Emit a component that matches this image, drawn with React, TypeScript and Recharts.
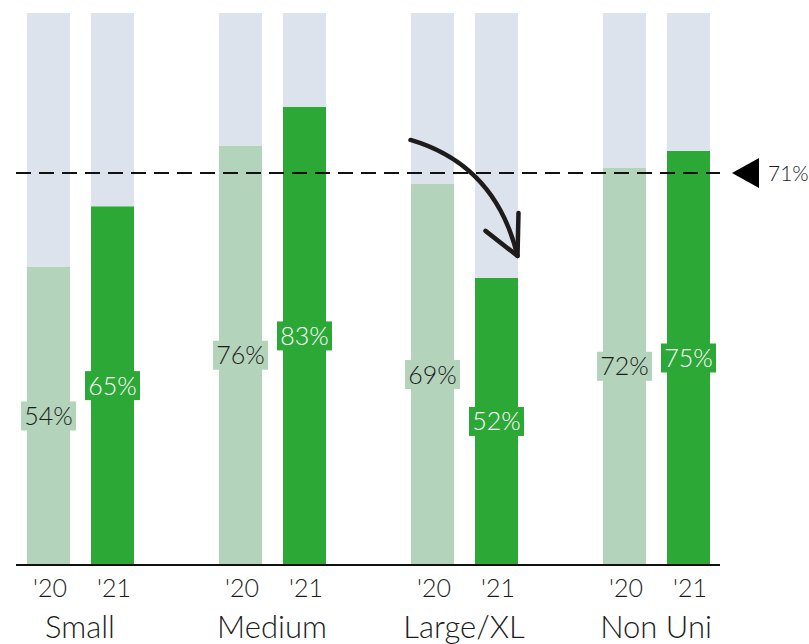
import React from "react";
import { BarChart, Bar, XAxis, YAxis, Cell, LabelList, ReferenceLine } from "recharts";

// Share by size group, 2020 vs 2021 (in %)
const groups = ["Small", "Medium", "Large/XL", "Non Uni"];
const yearLabels = ["'20", "'21"];
const share2020 = [54, 76, 69, 72];
const share2021 = [65, 83, 52, 75];

// Overall benchmark line
const benchmark = 71;
const benchmarkLabel = "71%";

// Curved arrow highlighting the drop in one group (start / end heights in %)
const dropGroup = "Large/XL";
const dropArrow = [77, 56];

const LIGHT = "#b3d3bb";
const DARK = "#2ca837";
const TRACK = "#dde3ed";
const INK = "#1c1c1c";
const FONT = "Lato, 'Open Sans', sans-serif";
const BAR = 43;

type Row = {
  key: string;
  year?: string;
  group?: string;
  value?: number;
  rest?: number;
  isNew?: boolean;
};

const rows: Row[] = [];
groups.forEach((g, i) => {
  [share2020[i], share2021[i]].forEach((v, j) => {
    rows.push({
      key: `${g}|${yearLabels[j]}`,
      year: yearLabels[j],
      group: g,
      value: v,
      rest: 100 - v,
      isNew: j === 1,
    });
  });
  // empty slot between groups
  if (i < groups.length - 1) rows.push({ key: `gap${i}` });
});

const CategoryTick = (props: any) => {
  const { x, y, payload, width } = props;
  const row = rows.find((r) => r.key === payload.value);
  if (!row || !row.year) return null;
  const halfBand = width ? width / rows.length / 2 : 32;
  return (
    <g>
      <text
        x={x + 2}
        y={y + 32}
        textAnchor="middle"
        fontFamily={FONT}
        fontWeight={300}
        fontSize={25}
        fill={INK}
      >
        {row.year}
      </text>
      {!row.isNew && (
        <text
          x={x + halfBand}
          y={y + 73}
          textAnchor="middle"
          fontFamily={FONT}
          fontWeight={300}
          fontSize={31}
          fill={INK}
        >
          {row.group}
        </text>
      )}
    </g>
  );
};

// Value tag centred on the coloured part of each bar
const ValueTag = (p: any) => {
  const row = rows.find((r) => r.key === p.value);
  if (!row || row.value == null) return null;
  const cx = p.x + p.width / 2;
  const cy = p.y + p.height / 2;
  return (
    <g>
      <rect x={cx - 27.5} y={cy - 14.5} width={55} height={29} fill={row.isNew ? DARK : LIGHT} />
      <text
        x={cx}
        y={cy + 9}
        textAnchor="middle"
        fontFamily={FONT}
        fontWeight={300}
        fontSize={25}
        fill={row.isNew ? "#ffffff" : INK}
      >
        {row.value}%
      </text>
    </g>
  );
};

const BenchmarkMarker = (props: any) => {
  const vb = props.viewBox || {};
  const xEnd = (vb.x || 0) + (vb.width || 0);
  const y = vb.y || 0;
  return (
    <g>
      <polygon
        points={`${xEnd + 12},${y} ${xEnd + 39},${y - 15} ${xEnd + 39},${y + 15}`}
        fill="#000"
      />
      <text
        x={xEnd + 48}
        y={y + 8}
        fontFamily={FONT}
        fontWeight={300}
        fontSize={21}
        fill={INK}
      >
        {benchmarkLabel}
      </text>
    </g>
  );
};

const DropArrow = (props: any) => {
  const { x1, y1, x2, y2 } = props;
  if ([x1, y1, x2, y2].some((v) => v == null || isNaN(v))) return null;
  const sx = x1 - BAR / 2;
  const ex = x2 + BAR / 2;
  const d = `M${sx},${y1} Q${ex - 22},${y1 + 25} ${ex},${y2}`;
  return (
    <g fill="none" stroke="#1e1b1c" strokeWidth={4.5} strokeLinecap="round" strokeLinejoin="round">
      <path d={d} />
      <path d={`M${ex + 1},${y2 - 43} L${ex},${y2} L${ex - 32},${y2 - 25}`} />
    </g>
  );
};

export default function App() {
  return (
    <div style={{ width: 809, height: 644 }}>
      <style>{`body{margin:0}`}</style>
      <BarChart
        width={809}
        height={644}
        data={rows}
        margin={{ top: 13, right: 89, bottom: 0, left: 16 }}
        barCategoryGap={0}
      >
        <XAxis
          dataKey="key"
          height={79}
          interval={0}
          axisLine={{ stroke: "#111", strokeWidth: 2 }}
          tickLine={false}
          tickSize={0}
          tickMargin={0}
          tick={<CategoryTick />}
        />
        <YAxis hide domain={[0, 100]} />
        <Bar dataKey="value" stackId="s" barSize={BAR} isAnimationActive={false}>
          {rows.map((r) => (
            <Cell key={r.key} fill={r.isNew ? DARK : LIGHT} />
          ))}
          <LabelList dataKey="key" content={ValueTag} />
        </Bar>
        <Bar dataKey="rest" stackId="s" barSize={BAR} fill={TRACK} isAnimationActive={false} />
        <ReferenceLine
          y={benchmark}
          stroke="#111"
          strokeWidth={2}
          strokeDasharray="15 8"
          label={BenchmarkMarker}
        />
        <ReferenceLine
          segment={[
            { x: `${dropGroup}|${yearLabels[0]}`, y: dropArrow[0] },
            { x: `${dropGroup}|${yearLabels[1]}`, y: dropArrow[1] },
          ]}
          shape={DropArrow}
        />
      </BarChart>
    </div>
  );
}
